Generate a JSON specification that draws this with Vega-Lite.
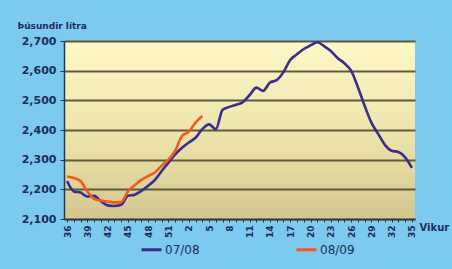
{
  "$schema": "https://vega.github.io/schema/vega-lite/v6.json",
  "width": 351,
  "height": 178,
  "autosize": {"type": "none"},
  "padding": {"left": 64, "top": 41, "right": 37, "bottom": 50},
  "background": "#7ccaef",
  "config": {
    "view": {
      "stroke": null,
      "fill": {"gradient": "linear", "x1": 0, "y1": 0, "x2": 0, "y2": 1, "stops": [{"offset": 0, "color": "#fef8c6"}, {"offset": 0.5, "color": "#eee5ad"}, {"offset": 1, "color": "#d3c78f"}]}
    },
    "font": "DejaVu Sans"
  },
  "data": {
    "values": [
      {"week": "36", "series": "07/08", "value": 2228},
      {"week": "37", "series": "07/08", "value": 2193},
      {"week": "38", "series": "07/08", "value": 2189},
      {"week": "39", "series": "07/08", "value": 2176},
      {"week": "40", "series": "07/08", "value": 2178},
      {"week": "41", "series": "07/08", "value": 2160},
      {"week": "42", "series": "07/08", "value": 2146},
      {"week": "43", "series": "07/08", "value": 2144},
      {"week": "44", "series": "07/08", "value": 2148},
      {"week": "45", "series": "07/08", "value": 2178},
      {"week": "46", "series": "07/08", "value": 2182},
      {"week": "47", "series": "07/08", "value": 2195},
      {"week": "48", "series": "07/08", "value": 2212},
      {"week": "49", "series": "07/08", "value": 2232},
      {"week": "50", "series": "07/08", "value": 2262},
      {"week": "51", "series": "07/08", "value": 2290},
      {"week": "52", "series": "07/08", "value": 2318},
      {"week": "1", "series": "07/08", "value": 2340},
      {"week": "2", "series": "07/08", "value": 2358},
      {"week": "3", "series": "07/08", "value": 2374},
      {"week": "4", "series": "07/08", "value": 2403},
      {"week": "5", "series": "07/08", "value": 2419},
      {"week": "6", "series": "07/08", "value": 2403},
      {"week": "7", "series": "07/08", "value": 2468},
      {"week": "8", "series": "07/08", "value": 2478},
      {"week": "9", "series": "07/08", "value": 2485},
      {"week": "10", "series": "07/08", "value": 2494},
      {"week": "11", "series": "07/08", "value": 2518},
      {"week": "12", "series": "07/08", "value": 2543},
      {"week": "13", "series": "07/08", "value": 2532},
      {"week": "14", "series": "07/08", "value": 2560},
      {"week": "15", "series": "07/08", "value": 2568},
      {"week": "16", "series": "07/08", "value": 2595},
      {"week": "17", "series": "07/08", "value": 2636},
      {"week": "18", "series": "07/08", "value": 2655},
      {"week": "19", "series": "07/08", "value": 2673},
      {"week": "20", "series": "07/08", "value": 2685},
      {"week": "21", "series": "07/08", "value": 2696},
      {"week": "22", "series": "07/08", "value": 2683},
      {"week": "23", "series": "07/08", "value": 2666},
      {"week": "24", "series": "07/08", "value": 2643},
      {"week": "25", "series": "07/08", "value": 2625},
      {"week": "26", "series": "07/08", "value": 2600},
      {"week": "27", "series": "07/08", "value": 2545},
      {"week": "28", "series": "07/08", "value": 2482},
      {"week": "29", "series": "07/08", "value": 2425},
      {"week": "30", "series": "07/08", "value": 2387},
      {"week": "31", "series": "07/08", "value": 2350},
      {"week": "32", "series": "07/08", "value": 2330},
      {"week": "33", "series": "07/08", "value": 2326},
      {"week": "34", "series": "07/08", "value": 2308},
      {"week": "35", "series": "07/08", "value": 2272},
      {"week": "36", "series": "08/09", "value": 2243},
      {"week": "37", "series": "08/09", "value": 2238},
      {"week": "38", "series": "08/09", "value": 2228},
      {"week": "39", "series": "08/09", "value": 2193},
      {"week": "40", "series": "08/09", "value": 2168},
      {"week": "41", "series": "08/09", "value": 2162},
      {"week": "42", "series": "08/09", "value": 2159},
      {"week": "43", "series": "08/09", "value": 2156},
      {"week": "44", "series": "08/09", "value": 2157},
      {"week": "45", "series": "08/09", "value": 2193},
      {"week": "46", "series": "08/09", "value": 2214},
      {"week": "47", "series": "08/09", "value": 2232},
      {"week": "48", "series": "08/09", "value": 2245},
      {"week": "49", "series": "08/09", "value": 2257},
      {"week": "50", "series": "08/09", "value": 2280},
      {"week": "51", "series": "08/09", "value": 2300},
      {"week": "52", "series": "08/09", "value": 2330},
      {"week": "1", "series": "08/09", "value": 2380},
      {"week": "2", "series": "08/09", "value": 2394},
      {"week": "3", "series": "08/09", "value": 2425},
      {"week": "4", "series": "08/09", "value": 2447}
    ]
  },
  "mark": {"type": "line", "strokeWidth": 2.6, "interpolate": "monotone"},
  "encoding": {
    "x": {
      "field": "week",
      "type": "ordinal",
      "scale": {
        "type": "point",
        "padding": 0.45,
        "domain": ["36","37","38","39","40","41","42","43","44","45","46","47","48","49","50","51","52","1","2","3","4","5","6","7","8","9","10","11","12","13","14","15","16","17","18","19","20","21","22","23","24","25","26","27","28","29","30","31","32","33","34","35"]
      },
      "axis": {
        "title": "Vikur",
        "titleX": 355,
        "titleY": 8,
        "titleAlign": "left",
        "titleBaseline": "middle",
        "titleFontSize": 10,
        "titleFontWeight": "bold",
        "titleColor": "#1c2d5a",
        "labelExpr": "(+datum.value >= 36 ? +datum.value % 3 == 0 : +datum.value % 3 == 2) ? datum.value : ''",
        "labelAngle": -90,
        "labelAlign": "right",
        "labelBaseline": "middle",
        "labelFontSize": 9,
        "labelFontWeight": "bold",
        "labelColor": "#1c2d5a",
        "labelPadding": 3,
        "tickSize": 3,
        "tickColor": "#2a3550",
        "domainColor": "#2a3550",
        "domainWidth": 1.5,
        "grid": false
      }
    },
    "y": {
      "field": "value",
      "type": "quantitative",
      "scale": {"domain": [2100, 2700], "nice": false, "zero": false},
      "axis": {
        "values": [2100, 2200, 2300, 2400, 2500, 2600, 2700],
        "format": ",d",
        "title": "Þúsundir lítra",
        "titleAngle": 0,
        "titleX": -47,
        "titleY": -16,
        "titleAlign": "left",
        "titleBaseline": "middle",
        "titleFontSize": 9,
        "titleFontWeight": "bold",
        "titleColor": "#1c2d5a",
        "labelFontSize": 11,
        "labelFontWeight": "bold",
        "labelColor": "#1c2d5a",
        "labelPadding": 4,
        "tickSize": 4,
        "tickColor": "#2a3550",
        "domainColor": "#2a3550",
        "domainWidth": 1.5,
        "grid": true,
        "gridColor": "#5e5a3c",
        "gridWidth": 1.8
      }
    },
    "color": {
      "field": "series",
      "type": "nominal",
      "scale": {"domain": ["07/08", "08/09"], "range": ["#3a2d8c", "#f05a1e"]},
      "legend": {
        "title": null,
        "orient": "none",
        "legendX": 76,
        "legendY": 197,
        "direction": "horizontal",
        "columns": 2,
        "columnPadding": 90,
        "symbolType": "stroke",
        "symbolSize": 400,
        "symbolStrokeWidth": 3,
        "labelFontSize": 12,
        "labelColor": "#1c2d5a",
        "labelOffset": 2
      }
    }
  }
}
